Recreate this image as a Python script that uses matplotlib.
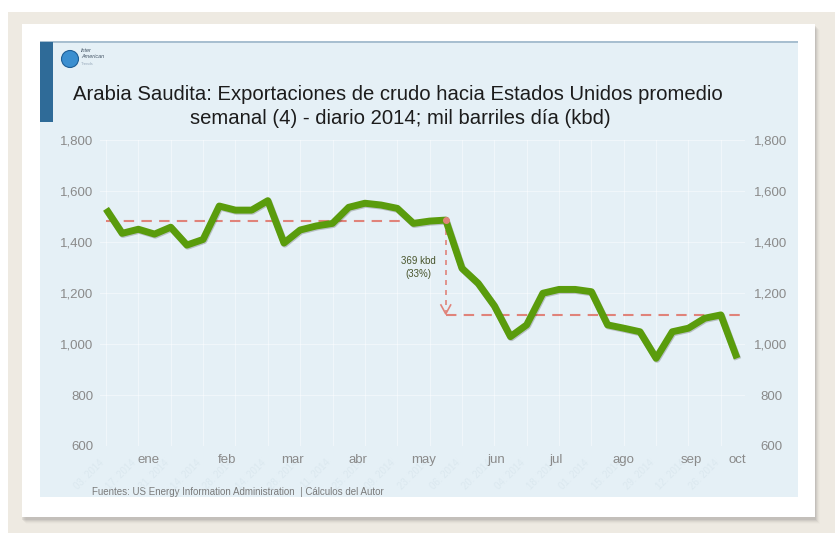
import matplotlib
matplotlib.use("Agg")
import matplotlib.pyplot as plt
from matplotlib.patches import Rectangle, Ellipse
import matplotlib.patheffects as pe
import numpy as np

# weekly averages, 2014 (kbd), Jan 3 .. Oct 3
exports = [1530, 1434, 1450, 1431, 1458, 1388, 1410, 1541, 1525, 1525,
           1562, 1396, 1447, 1463, 1473, 1536, 1552, 1545, 1532, 1473,
           1482, 1486, 1297, 1238, 1150, 1029, 1075, 1199, 1214, 1214,
           1205, 1075, 1062, 1048, 944, 1048, 1062, 1101, 1114, 944]
week_dates = ["03.", "10.", "17.", "24.", "31.", "07.", "14.", "21.", "28.", "07.",
              "14.", "21.", "28.", "04.", "11.", "18.", "25.", "02.", "09.", "16.",
              "23.", "30.", "06.", "13.", "20.", "27.", "04.", "11.", "18.", "25.",
              "01.", "08.", "15.", "22.", "29.", "05.", "12.", "19.", "26.", "03."]
months = ["ene", "feb", "mar", "abr", "may", "jun", "jul", "ago", "sep", "oct"]
month_pos = [2.6, 7.5, 11.5, 15.6, 19.65, 24.1, 27.8, 32.0, 36.2, 39.0]
yticks = [600, 800, 1000, 1200, 1400, 1600, 1800]
level_before = 1482
level_after = 1113
peak_idx = 21
drop_label = "369 kbd\n(33%)"

W, H = 835, 533
fig = plt.figure(figsize=(W / 100, H / 100), dpi=100)
fig.patch.set_facecolor("#eeeae2")
plt.rcParams['font.family'] = ['Liberation Sans', 'DejaVu Sans']


def box(x0, y0, x1, y1, **kw):
    # pixel coords, origin top-left
    r = Rectangle((x0 / W, 1 - y1 / H), (x1 - x0) / W, (y1 - y0) / H,
                  transform=fig.transFigure, zorder=0, **kw)
    fig.patches.append(r)
    return r


def ftext(x, y, s, **kw):
    return fig.text(x / W, 1 - y / H, s, **kw)


# white margin of the screenshot
box(0, 0, W, 12, facecolor="white", edgecolor="none")
box(0, 0, 8, H, facecolor="white", edgecolor="none")

# card shadow
for i, a in enumerate([0.10, 0.08, 0.06, 0.04, 0.02]):
    box(22 + i, 26 + i, 815 + i + 1, 518 + i + 2, facecolor="#555555",
        edgecolor="none", alpha=a)
box(22, 24, 815, 517, facecolor="white", edgecolor="none")

# chart panel
box(40, 42, 798, 497, facecolor="#e5f0f6", edgecolor="none")
box(40, 41, 798, 43, facecolor="#a8bfd0", edgecolor="none")
box(40, 42, 53, 122, facecolor="#2f6b98", edgecolor="none")

# logo
logo = Ellipse((70 / W, 1 - 59 / H), 17 / W, 17 / H, transform=fig.transFigure,
               facecolor="#3b8fd0", edgecolor="#1e5f97", lw=0.8, zorder=1)
fig.patches.append(logo)
ftext(81, 50, "Inter", fontsize=4, style="italic", color="#445566", va="center")
ftext(81, 57, "American", fontsize=4, style="italic", color="#445566", va="center")
ftext(81, 64, "Trends", fontsize=3, color="#99aabb", va="center")

# title
ftext(398, 95, "Arabia Saudita: Exportaciones de crudo hacia Estados Unidos promedio",
      fontsize=14.6, color="#1c1c1c", ha="center", va="center")
ftext(400, 118, "semanal (4) - diario 2014; mil barriles día (kbd)",
      fontsize=14.6, color="#1c1c1c", ha="center", va="center")

# footer
ftext(92, 492, "Fuentes: US Energy Information Administration  | Cálculos del Autor",
      fontsize=7, color="#7a7a7a", ha="left", va="center")

# axes: y 600 -> px 446, 1800 -> px 140
ax_l, ax_r, ax_t, ax_b = 100, 745, 140, 446
ax = fig.add_axes([ax_l / W, 1 - ax_b / H, (ax_r - ax_l) / W, (ax_b - ax_t) / H])
ax.set_zorder(5)
ax.patch.set_alpha(0)
x = np.arange(len(exports))
x0 = -(106 - ax_l) / 16.18
ax.set_xlim(x0, x0 + (ax_r - ax_l) / 16.18)
ax.set_ylim(600, 1800)
for s in ax.spines.values():
    s.set_visible(False)

ax.set_yticks(yticks)
ax.set_yticklabels([f"{v:,}" for v in yticks])
ax.tick_params(axis="y", length=0, pad=5, labelsize=9.5, labelcolor="#8a8a8a")
ax2 = ax.twinx()
ax2.set_zorder(4)
ax2.patch.set_alpha(0)
ax2.set_ylim(ax.get_ylim())
ax2.set_yticks(yticks)
ax2.set_yticklabels([f"{v:,}" for v in yticks], ha="center")
ax2.tick_params(axis="y", length=0, pad=18.7, labelsize=9.5, labelcolor="#8a8a8a")
for s in ax2.spines.values():
    s.set_visible(False)

ax.set_xticks(month_pos)
ax.set_xticklabels(months)
ax.tick_params(axis="x", length=0, pad=6, labelsize=9.5, labelcolor="#8a8a8a")

# grid (very faint)
for v in yticks:
    ax.axhline(v, color="white", lw=0.8, alpha=0.45, zorder=0)
for i in range(0, len(exports), 2):
    ax.axvline(i, color="white", lw=0.8, alpha=0.45, zorder=0)

# faint rotated date labels (original axis, washed out)
for i in range(0, len(exports), 2):
    ax.text(i, 555, week_dates[i] + " 2014", rotation=45, ha="right", va="top",
            fontsize=7, color="#dbe8ef", clip_on=False, zorder=0)

# reference lines
red = "#e0837a"
ax.plot([0, peak_idx], [level_before, level_before], color=red, lw=1.5,
        dashes=(5, 3.5), zorder=2)
ax.plot([peak_idx, len(exports) - 0.8], [level_after, level_after], color=red,
        lw=1.5, dashes=(5, 3.5), zorder=2)
ax.plot([peak_idx, peak_idx], [exports[peak_idx], level_after + 12], color=red,
        lw=1.2, dashes=(3, 3), zorder=2)
ax.plot([peak_idx - 0.3, peak_idx, peak_idx + 0.3],
        [level_after + 40, level_after + 5, level_after + 40], color=red, lw=1.2,
        zorder=2)

# main series
ax.plot(x, exports, color="#5a9c0c", lw=5, solid_joinstyle="round",
        solid_capstyle="butt", zorder=3,
        path_effects=[pe.SimpleLineShadow(offset=(0.6, -0.8), alpha=0.2),
                      pe.Normal()])
ax.plot([peak_idx], [exports[peak_idx]], "o", color=red, ms=4, zorder=4)

ax.text(peak_idx - 1.7, 1300, drop_label, ha="center", va="center", fontsize=7,
        color="#48552c", linespacing=1.4)

fig.savefig("out.png", dpi=100, facecolor=fig.get_facecolor())
